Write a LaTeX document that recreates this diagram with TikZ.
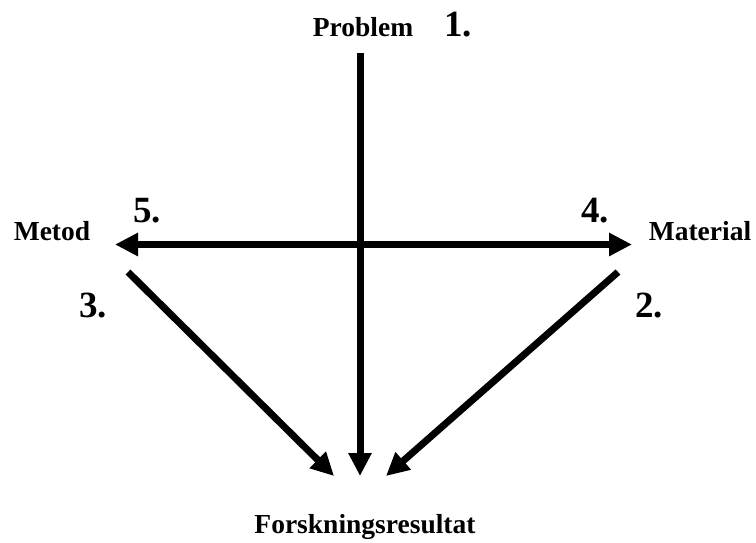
\documentclass[tikz,border=0pt]{standalone}
\usepackage{fontspec}
\setmainfont{Liberation Serif}
\usetikzlibrary{arrows.meta}
\begin{document}
\begin{tikzpicture}[x=1pt,y=-1pt,
  lbl/.style={font=\bfseries\fontsize{27.5}{30}\selectfont, inner sep=0pt, anchor=base},
  num/.style={font=\bfseries\fontsize{37}{40}\selectfont, inner sep=0pt, anchor=base},
  arr/.style={line width=7pt, -{Triangle[length=23pt,width=22pt]}},
  darr/.style={line width=7pt, {Triangle[length=23pt,width=22pt]}-{Triangle[length=23pt,width=22pt]}}]
\useasboundingbox (0,0) rectangle (756,542);
% labels
\node[lbl] (problem) at (363,36) {Problem};
\node[num] (n1) at (458,36) {1.};
\node[lbl] (metod) at (52,240) {Metod};
\node[lbl] (material) at (700,240) {Material};
\node[lbl] (result) at (365,533) {Forskningsresultat};
\node[num] (n5) at (147,222) {5.};
\node[num] (n4) at (595,222) {4.};
\node[num] (n3) at (93,317) {3.};
\node[num] (n2) at (649,317) {2.};
% connector coordinates
\coordinate (vtop) at (360,53);
\coordinate (vtip) at (360,476);
\coordinate (hleft) at (115,244.5);
\coordinate (hright) at (632,244.5);
\coordinate (dlstart) at (128,272);
\coordinate (dltip) at (334,476);
\coordinate (drstart) at (618,272);
\coordinate (drtip) at (386,476);
% arrows
\draw[arr] (vtop) -- (vtip);
\draw[darr] (hleft) -- (hright);
\draw[arr] (dlstart) -- (dltip);
\draw[arr] (drstart) -- (drtip);
\end{tikzpicture}
\end{document}
